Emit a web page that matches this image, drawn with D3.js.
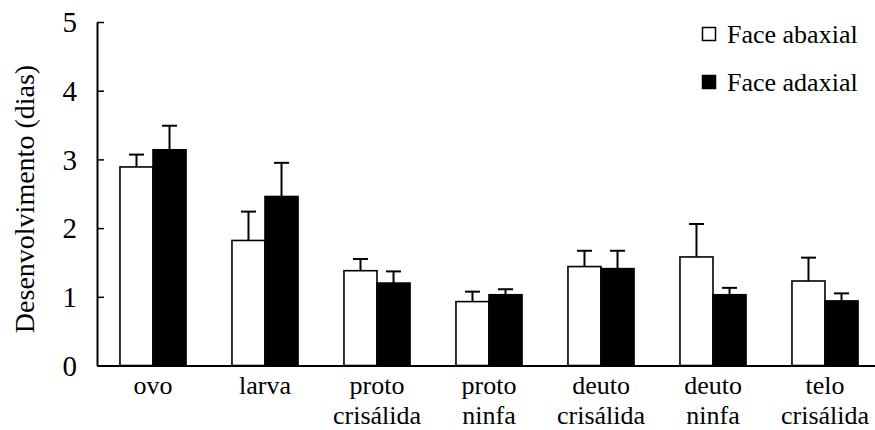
<!DOCTYPE html>
<html>
<head>
<meta charset="utf-8">
<script src="https://cdn.jsdelivr.net/npm/d3@7"></script>
<style>
  html, body { margin: 0; padding: 0; background: #fff; }
  svg { display: block; }
  svg text { font-family: "Liberation Serif", "Times New Roman", serif; }
</style>
</head>
<body>
<svg id="chart" width="875" height="430"></svg>
<script>
const categories = [["ovo"], ["larva"], ["proto", "crisálida"], ["proto", "ninfa"], ["deuto", "crisálida"], ["deuto", "ninfa"], ["telo", "crisálida"]];
const seriesNames = ["Face abaxial", "Face adaxial"];
const abaxial = [2.89, 1.82, 1.38, 0.93, 1.44, 1.58, 1.23];
const abaxialErr = [0.18, 0.42, 0.17, 0.145, 0.23, 0.48, 0.34];
const adaxial = [3.14, 2.46, 1.20, 1.03, 1.41, 1.03, 0.94];
const adaxialErr = [0.35, 0.49, 0.17, 0.08, 0.26, 0.10, 0.11];
const yTicks = [0, 1, 2, 3, 4, 5];
const yLabel = "Desenvolvimento (dias)";

(function () {
const FONT = "Liberation Serif";
const svg = d3.select("#chart");
const mLeft = 97, mRight = 881, mTop = 22, mBottom = 365.5;

const catKeys = categories.map((c, i) => i);
const x = d3.scaleBand().domain(catKeys).range([mLeft, mRight]).paddingInner(0.41).paddingOuter(0.205);
const x1 = d3.scaleBand().domain(seriesNames).range([0, x.bandwidth()]);
const y = d3.scaleLinear().domain([0, 5]).range([mBottom, mTop]);

const fills = {"Face abaxial": "#fff", "Face adaxial": "#000"};
const data = seriesNames.map((s, si) => ({
  name: s,
  values: catKeys.map(i => ({i, v: si === 0 ? abaxial[i] : adaxial[i], e: si === 0 ? abaxialErr[i] : adaxialErr[i]}))
}));

const capW = 15;
data.forEach(s => {
  const g = svg.append("g");
  const cx = d => x(d.i) + x1(s.name) + x1.bandwidth() / 2;
  g.selectAll("line.v").data(s.values).join("line")
    .attr("x1", cx).attr("x2", cx)
    .attr("y1", d => y(d.v))
    .attr("y2", d => y(d.v + d.e))
    .attr("stroke", "#000").attr("stroke-width", 2);
  g.selectAll("line.c").data(s.values).join("line")
    .attr("x1", d => cx(d) - capW / 2)
    .attr("x2", d => cx(d) + capW / 2)
    .attr("y1", d => y(d.v + d.e))
    .attr("y2", d => y(d.v + d.e))
    .attr("stroke", "#000").attr("stroke-width", 2);
});

data.forEach(s => {
  svg.append("g").selectAll("rect").data(s.values).join("rect")
    .attr("x", d => x(d.i) + x1(s.name))
    .attr("y", d => y(d.v))
    .attr("width", x1.bandwidth())
    .attr("height", d => y(0) - y(d.v))
    .attr("fill", fills[s.name])
    .attr("stroke", "#000").attr("stroke-width", 1.6);
});

const yAxis = d3.axisLeft(y).tickValues(yTicks).tickSizeInner(-7).tickSizeOuter(0).tickPadding(20).tickFormat(d3.format("d"));
const yg = svg.append("g").attr("transform", `translate(${mLeft},0)`).call(yAxis);
yg.attr("font-family", FONT);
yg.select(".domain").attr("stroke", "#000").attr("stroke-width", 2);
yg.selectAll(".tick line").attr("stroke", "#000").attr("stroke-width", 1.5);
yg.selectAll(".tick text").attr("font-size", 29).attr("font-family", FONT).attr("fill", "#000").attr("dy", "0.34em");

const xAxis = d3.axisBottom(x).tickSize(0).tickSizeOuter(0).tickFormat(() => "");
const xg = svg.append("g").attr("transform", `translate(0,${mBottom})`).call(xAxis);
xg.attr("font-family", FONT);
xg.select(".domain").attr("stroke", "#000").attr("stroke-width", 2.2);
xg.selectAll(".tick").each(function(d) {
  const t = d3.select(this).select("text").attr("font-size", 26).attr("font-family", FONT).attr("fill", "#000").attr("y", 0).attr("dy", null);
  categories[d].forEach((line, k) => {
    t.append("tspan").attr("x", 0).attr("y", 28.5 + k * 30).text(line);
  });
});

svg.append("text")
  .attr("transform", `translate(34,${199}) rotate(-90)`)
  .attr("text-anchor", "middle")
  .attr("font-family", FONT)
  .attr("font-size", 28)
  .attr("fill", "#000")
  .text(yLabel);

const lg = svg.append("g");
seriesNames.forEach((s, k) => {
  const yy = 27.5 + k * 48;
  lg.append("rect").attr("x", 702.5).attr("y", yy).attr("width", 13).attr("height", 13)
    .attr("fill", fills[s]).attr("stroke", "#000").attr("stroke-width", 1.5);
  lg.append("text").attr("x", 727).attr("y", yy + 15.5).attr("font-family", FONT).attr("font-size", 26).attr("fill", "#000").text(s);
});
})();
</script>
</body>
</html>
